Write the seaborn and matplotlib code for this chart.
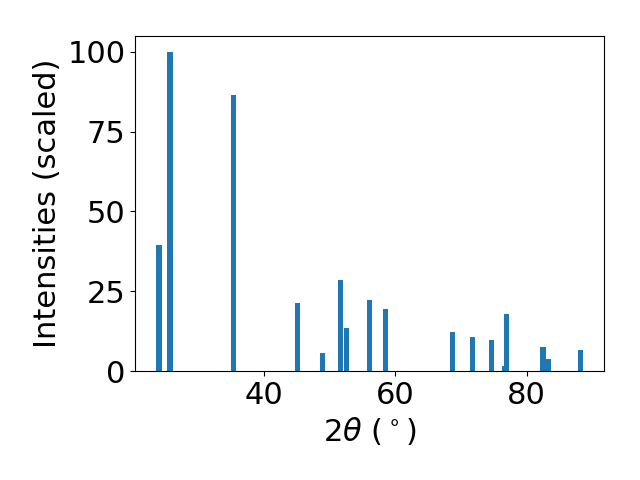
import matplotlib
matplotlib.use("Agg")
import matplotlib.pyplot as plt
import seaborn as sns
import pandas as pd

two_theta = [24.05, 25.73, 35.34, 45.19, 48.93, 51.68, 52.6, 56.1, 58.55,
             68.78, 71.76, 74.66, 76.6, 76.9, 82.52, 83.28, 88.17]
intensity = [39.6, 100.0, 86.5, 21.4, 5.7, 28.6, 13.5, 22.3, 19.5,
             12.3, 10.7, 9.75, 1.6, 17.9, 7.5, 3.8, 6.6]

df = pd.DataFrame({"two_theta": two_theta, "intensity": intensity})

plt.rcParams.update(plt.rcParamsDefault)
color = sns.color_palette("tab10")[0]

fig, ax = plt.subplots(figsize=(6.4, 4.8), dpi=100)
ax.bar(df["two_theta"], df["intensity"], width=0.8, color=color)

ax.set_xlabel(r"2$\theta$ ($^\circ$)", fontsize=22)
ax.set_ylabel("Intensities (scaled)", fontsize=22)
ax.tick_params(labelsize=22)
ax.set_yticks([0, 25, 50, 75, 100])
ax.set_xticks([40, 60, 80])

fig.subplots_adjust(left=0.211, right=0.944, bottom=0.227, top=0.925)
fig.savefig("out.png", dpi=100)
